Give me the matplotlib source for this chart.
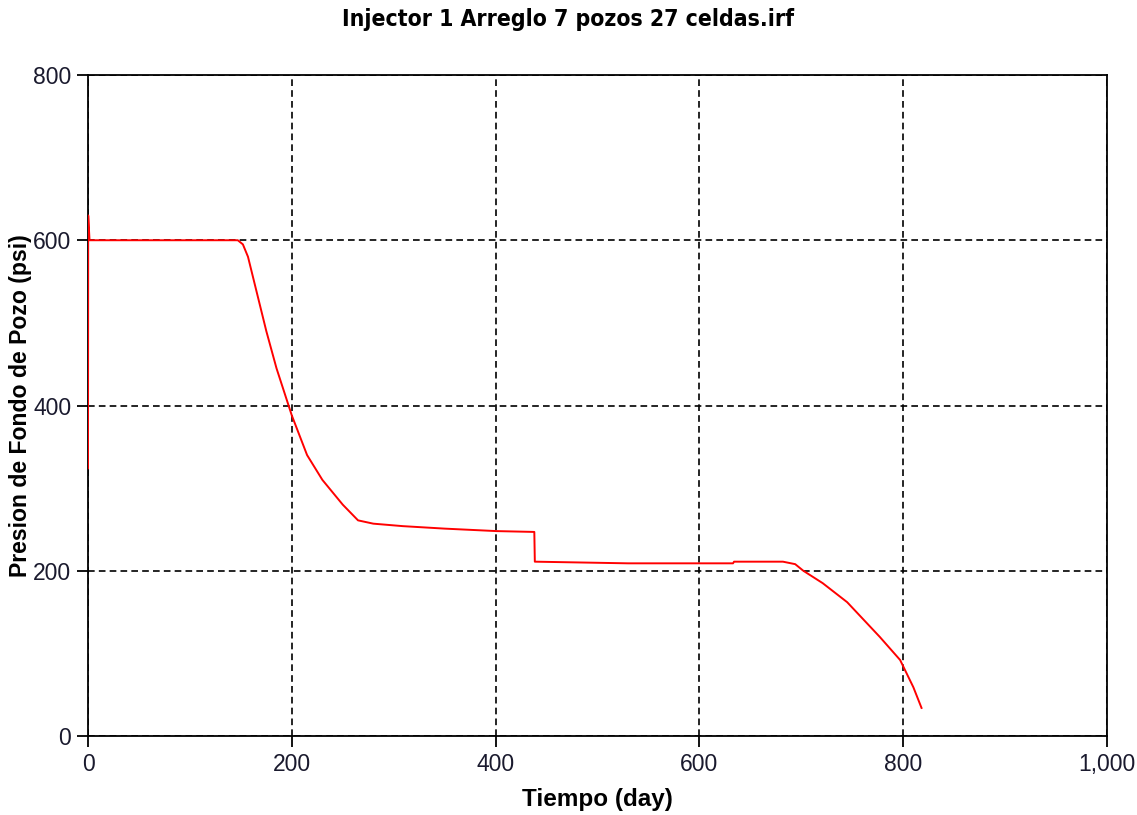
import matplotlib
matplotlib.use("Agg")
import matplotlib.pyplot as plt
from matplotlib.ticker import FuncFormatter

plt.rcParams['font.family'] = ['Liberation Sans', 'DejaVu Sans']

# bottom-hole pressure of the injector over time
tiempo = [0, 0.2, 1.5, 100, 147, 152, 157, 165, 175, 185, 200, 215, 230, 250, 265,
          280, 309, 350, 401, 438, 438.5, 530, 633, 634, 682, 694, 702, 721, 745,
          777, 797, 810, 818]
presion = [324, 630, 600, 600, 600, 595, 580, 540, 490, 445, 388, 340, 310, 280, 261,
           257, 254, 251, 248, 247, 211, 209, 209, 211, 211, 208, 200, 185, 162,
           120, 92, 59, 34]

title = "Injector 1 Arreglo 7 pozos 27 celdas.irf"
xlabel = "Tiempo (day)"
ylabel = "Presion de Fondo de Pozo (psi)"

fig = plt.figure(figsize=(11.37, 8.15), dpi=100)
ax = fig.add_axes([0.0774, 0.0969, 0.8962, 0.8111])

ax.plot(tiempo, presion, color='red', linewidth=1.4, zorder=3)

ax.set_xlim(0, 1000)
ax.set_ylim(0, 800)
ax.set_xticks([0, 200, 400, 600, 800, 1000])
ax.set_yticks([0, 200, 400, 600, 800])
ax.xaxis.set_major_formatter(FuncFormatter(lambda v, p: f"{int(v):,}"))
ax.grid(True, color='black', linestyle=(0, (4, 2.5)), linewidth=1.2)
ax.tick_params(direction='out', length=8, width=1.3, pad=4, labelsize=16.5,
               colors='black', labelcolor='#1a1a2e')
for s in ax.spines.values():
    s.set_linewidth(1.3)

ax.set_xlabel(xlabel, fontsize=17.5, fontweight='bold', labelpad=9)
ax.set_ylabel(ylabel, fontsize=16.6, fontweight='bold', labelpad=1)
fig.suptitle(title, fontsize=16.5, fontweight='bold', y=0.99,
             family='DejaVu Sans', fontstretch='condensed')

fig.savefig("out.png", dpi=100)
